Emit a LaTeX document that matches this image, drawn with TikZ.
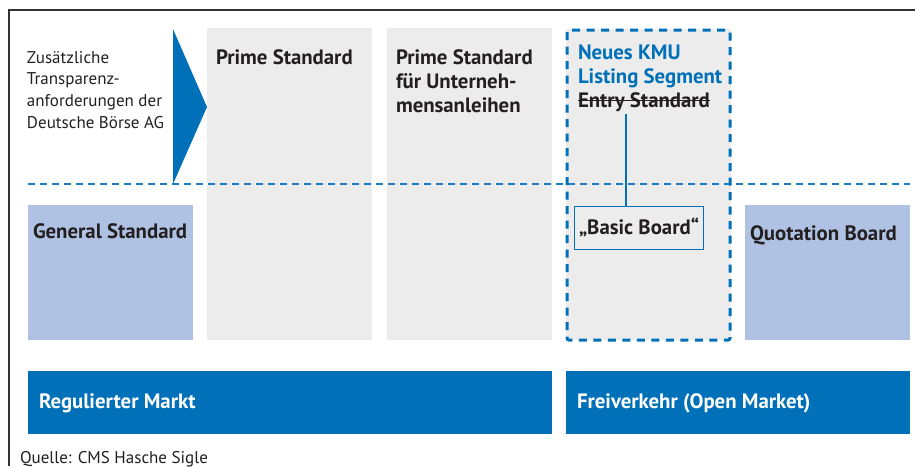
\documentclass[tikz,border=0pt]{standalone}
\usepackage{fontspec}
\setmainfont{PT Sans}
\definecolor{cblue}{HTML}{0070B8}
\definecolor{dblue}{HTML}{1B7DC7}
\definecolor{lblue}{HTML}{AFC2E4}
\definecolor{cgray}{HTML}{ECECEC}
\definecolor{ctext}{HTML}{231F20}
\begin{document}
\begin{tikzpicture}[x=1pt,y=-1pt,
  box/.style={inner sep=0pt,outer sep=0pt,draw=none},
  lbl/.style={inner sep=0pt,outer sep=0pt,anchor=base west,align=left,text=ctext,font=\fontsize{20.8}{24}\selectfont\bfseries},
  small/.style={inner sep=0pt,outer sep=0pt,anchor=base west,align=left,text=ctext,font=\fontsize{17}{21.6}\selectfont},
  wlbl/.style={lbl,text=white}]
\useasboundingbox (0,0) rectangle (915,466);
% frame
\draw[line width=1.2pt,color=black!80] (9,466) -- (9,10) -- (915,10);
% gray columns
\path[fill=cgray] (207,28) rectangle (372,340);
\path[fill=cgray] (387,28) rectangle (552,340);
\path[fill=cgray] (566,29) rectangle (731,340);
% light blue boxes
\path[fill=lblue] (28,205) rectangle (193,340);
\path[fill=lblue] (745,205) rectangle (910,340);
% bottom bars
\path[fill=cblue] (28,371) rectangle (552,434);
\path[fill=cblue] (566,371) rectangle (910,434);
% triangle
\fill[cblue] (173,29) -- (207,107) -- (173,184) -- cycle;
% horizontal dashed line
\draw[dblue,line width=1.8pt,dash pattern=on 7pt off 5pt] (28,184) -- (910,184);
% dashed box
\draw[cblue,line width=3pt,dash pattern=on 8pt off 6.5pt,rounded corners=2pt] (567,30) rectangle (730,340);
% Basic Board box
\node[box,draw=cblue,line width=1.5pt,fill=cgray,minimum width=129pt,minimum height=43pt,anchor=north west] (bb) at (574.5,206.5) {};
\coordinate (est) at (626,114);
\draw[cblue,line width=1.5pt] (est) -- (est |- bb.north);
% texts
\node[small] (zus) at (27,128) {Zusätzliche\\Transparenz-\\anforderungen der\\Deutsche Börse AG};
\node[lbl] (ps) at (216,64) {Prime Standard};
\node[lbl] (psu) at (396,112) {Prime Standard\\für Unterneh-\\mensanleihen};
\node[lbl,text=cblue] (kmu) at (578,83) {Neues KMU\\Listing Segment};
\node[lbl] (entry) at (578,107) {Entry Standard};
\draw[ctext,line width=1.4pt] ([yshift=6.5pt]entry.base west) -- ([yshift=6.5pt]entry.base east);
\node[lbl] (gs) at (33,238) {General Standard};
\node[lbl] (bbt) at (579,234) {„Basic Board“};
\node[lbl] (qb) at (750,240) {Quotation Board};
\node[wlbl] (rm) at (39,408) {Regulierter Markt};
\node[wlbl] (fv) at (577,408) {Freiverkehr (Open Market)};
\node[small] (quelle) at (20,463) {Quelle: CMS Hasche Sigle};
\end{tikzpicture}
\end{document}
